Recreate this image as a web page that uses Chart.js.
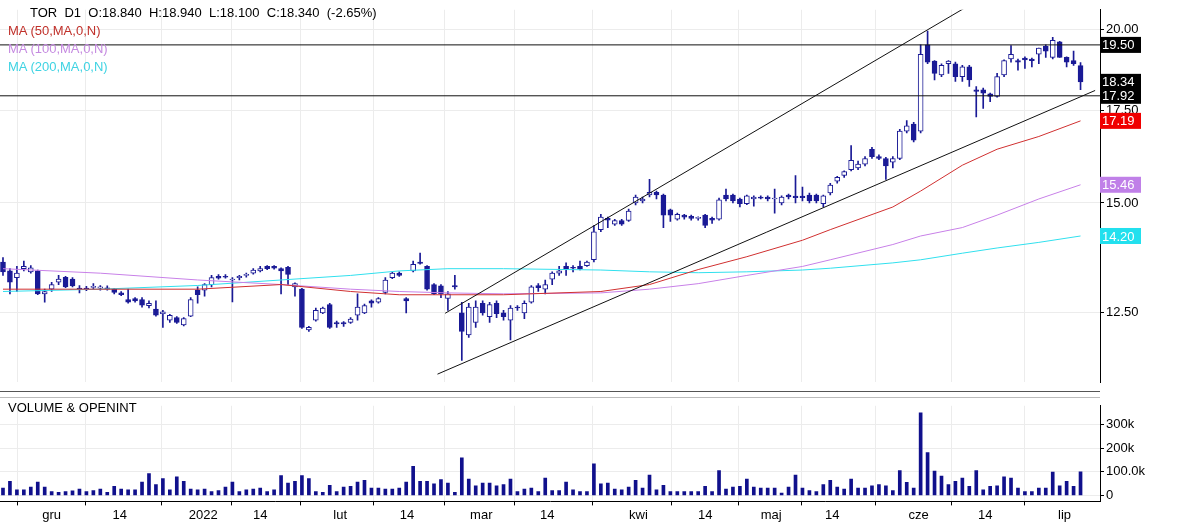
<!DOCTYPE html>
<html><head><meta charset="utf-8">
<script src="https://cdn.jsdelivr.net/npm/chart.js@4.4.1/dist/chart.umd.min.js"></script>
<style>
body{margin:0;background:#fff;width:1184px;height:525px;overflow:hidden;font-family:"Liberation Sans",Arial,sans-serif}
#top{position:absolute;left:0;top:0;width:1184px;height:392px}
#bot{position:absolute;left:0;top:396px;width:1184px;height:129px}
.lbl{position:absolute;font-size:13px;white-space:pre;line-height:14px}
#sep{position:absolute;left:0;top:391px;width:1100px;height:1px;background:#555}
#sep2{position:absolute;left:0;top:397px;width:1100px;height:1px;background:#bbb}
</style></head><body>
<div id="top"><canvas id="c1"></canvas></div>
<div id="bot"><canvas id="c2"></canvas></div>
<div id="sep"></div><div id="sep2"></div>
<div class="lbl" style="left:30px;top:6px;color:#000">TOR  D1  O:18.840  H:18.940  L:18.100  C:18.340  (-2.65%)</div>
<div class="lbl" style="left:8px;top:24px;color:#c0302a">MA (50,MA,0,N)</div>
<div class="lbl" style="left:8px;top:42px;color:#c58ae0">MA (100,MA,0,N)</div>
<div class="lbl" style="left:8px;top:60px;color:#3fd3e3">MA (200,MA,0,N)</div>
<div class="lbl" style="left:8px;top:401px;color:#000">VOLUME &amp; OPENINT</div>
<script>
const opens=[13.6,13.4,13.25,13.45,13.38,13.4,12.9,13.0,13.15,13.26,13.22,13.02,13.02,13.04,13.02,13.03,13.0,12.92,12.78,12.8,12.78,12.65,12.58,12.48,12.35,12.4,12.25,12.43,12.98,12.98,13.1,13.28,13.28,
13.2,13.25,13.3,13.35,13.4,13.5,13.5,13.45,13.48,13.05,13.0,12.15,12.35,12.5,12.67,12.3,12.3,12.3,12.45,12.5,12.75,12.72,12.93,13.25,13.35,12.8,13.4,13.6,13.5,13.1,13.07,12.8,
13.08,12.5,12.05,12.3,12.7,12.42,12.7,12.5,12.35,12.62,12.5,12.72,13.08,13.0,13.22,13.35,13.5,13.48,13.5,13.52,13.65,14.35,14.62,14.48,14.57,14.57,15.0,15.05,15.2,15.27,15.2,
14.83,14.6,14.7,14.67,14.62,14.7,14.62,14.6,15.2,15.2,15.1,14.98,15.1,15.15,15.15,15.1,15.0,15.2,15.17,15.17,15.2,15.2,14.98,15.25,15.55,15.7,15.85,15.9,16.0,16.4,16.2,16.15,
16.05,16.15,16.9,17.1,16.9,19.5,18.98,18.55,18.9,18.9,18.5,18.8,18.1,18.1,17.98,17.9,18.55,19.05,19.0,19.08,19.05,19.2,19.45,19.1,19.6,19.1,19.0,18.84];
const highs=[13.7,13.45,13.5,13.62,13.52,13.42,13.0,13.15,13.3,13.28,13.25,13.08,13.06,13.12,13.08,13.07,13.02,12.95,13.0,12.82,12.82,12.75,12.75,12.55,12.47,12.42,12.4,12.82,13.05,13.12,13.3,13.32,13.32,
13.25,13.3,13.35,13.45,13.5,13.52,13.52,13.47,13.5,13.14,13.02,12.22,12.6,12.62,12.7,12.33,12.32,12.4,12.9,12.68,12.77,12.82,13.25,13.37,13.38,12.82,13.62,13.8,13.52,13.12,13.1,12.95,
13.3,12.72,12.7,12.75,12.75,12.72,12.75,12.55,12.65,12.65,12.75,13.08,13.12,13.2,13.38,13.5,13.58,13.52,13.62,13.62,14.45,14.72,14.65,14.6,14.6,14.85,15.2,15.15,15.6,15.3,15.22,
14.85,14.75,14.72,14.7,14.66,14.72,14.65,15.12,15.35,15.22,15.12,15.2,15.18,15.18,15.18,15.35,15.18,15.22,15.7,15.4,15.25,15.22,15.2,15.5,15.68,15.82,16.5,16.08,16.2,16.45,16.25,16.18,
16.2,16.95,17.2,17.15,19.5,19.95,19.0,18.9,19.0,18.95,18.85,18.85,18.2,18.15,18.0,18.6,19.02,19.48,19.05,19.12,19.08,19.4,19.5,19.75,19.62,19.12,19.3,18.94];
const lows=[13.3,12.9,12.95,13.4,13.35,12.88,12.72,12.95,13.1,13.03,13.05,12.92,12.97,13.0,12.98,12.98,12.9,12.86,12.7,12.72,12.62,12.6,12.43,12.2,12.3,12.28,12.23,12.42,12.7,12.85,13.05,13.22,13.24,
12.73,13.2,13.26,13.33,13.38,13.43,13.44,12.9,13.1,12.85,12.18,12.12,12.33,12.48,12.18,12.2,12.22,12.28,12.35,12.48,12.62,12.7,12.9,13.23,13.28,12.5,13.38,13.55,12.98,12.88,12.82,12.55,
13.0,11.55,12.0,12.2,12.45,12.3,12.4,12.35,11.95,12.55,12.38,12.7,12.95,12.9,13.1,13.3,13.3,13.38,13.42,13.5,13.6,14.3,14.4,14.45,14.45,14.55,14.95,15.0,15.15,15.1,14.4,
14.55,14.58,14.6,14.58,14.58,14.4,14.5,14.58,15.05,15.0,14.9,14.96,14.92,15.1,15.05,14.75,14.95,15.1,15.0,15.05,15.0,15.0,14.9,15.2,15.5,15.65,15.82,15.85,15.95,16.15,16.12,15.6,
15.9,16.12,16.85,16.6,16.85,18.9,18.4,18.5,18.6,18.35,18.35,18.2,17.3,17.55,17.75,17.88,18.5,18.95,18.7,18.75,18.8,18.9,19.1,19.05,19.1,18.8,18.85,18.1];
const closes=[13.38,13.15,13.35,13.5,13.47,12.9,12.95,13.1,13.22,13.05,13.07,13.0,13.0,13.05,13.05,13.0,12.93,12.88,12.72,12.75,12.66,12.7,12.45,12.52,12.45,12.3,12.38,12.78,12.88,13.1,13.25,13.24,13.26,
13.22,13.28,13.3,13.42,13.45,13.45,13.46,13.4,13.32,13.12,12.2,12.2,12.55,12.6,12.2,12.27,12.27,12.37,12.62,12.65,12.7,12.8,13.2,13.35,13.3,12.75,13.55,13.57,13.0,12.9,12.9,12.9,
13.05,12.12,12.62,12.62,12.5,12.67,12.48,12.42,12.6,12.6,12.7,13.05,13.03,13.1,13.35,13.4,13.45,13.46,13.44,13.6,14.3,14.65,14.58,14.57,14.48,14.8,15.15,15.1,15.27,15.2,14.7,
14.7,14.72,14.65,14.62,14.62,14.45,14.58,15.08,15.1,15.05,14.98,15.18,15.15,15.12,15.1,15.1,15.15,15.15,15.13,15.13,15.05,15.05,15.18,15.45,15.65,15.8,16.1,16.0,16.15,16.2,16.15,15.95,
16.15,16.9,17.05,16.65,19.2,18.95,18.6,18.85,18.98,18.5,18.8,18.4,18.05,18.0,17.9,18.5,19.0,19.2,18.95,19.02,19.0,19.4,19.3,19.65,19.1,18.95,18.9,18.34];
const volumes=[31,60,24,24,36,57,36,17,13,17,20,27,17,21,27,13,39,27,24,24,57,93,46,72,24,79,60,27,24,27,17,21,36,57,17,24,27,31,17,24,84,53,60,84,72,17,13,43,17,36,39,57,64,31,31,27,27,31,57,124,60,60,49,67,53,13,160,70,41,53,53,41,46,70,17,27,31,17,
74,21,21,57,24,17,17,134,49,53,27,24,36,64,31,86,24,43,17,17,17,17,17,39,17,106,27,36,39,70,36,31,31,31,10,36,86,31,21,17,46,64,36,27,70,31,31,41,46,41,21,106,56,31,350,182,103,82,46,60,74,39,106,24,39,41,79,74,31,17,17,31,31,99,41,60,39,100];
const maIdx=[0,14,28,40,50,57,64,72,86,93,100,107,115,119,128,132,138,143,149,155];
const ma50=[13.0,13.0,13.0,13.1,12.95,12.88,12.88,12.88,12.95,13.1,13.43,13.72,14.1,14.35,14.9,15.3,15.97,16.4,16.75,17.19];
const ma100=[13.45,13.35,13.2,13.1,13.0,12.95,12.92,12.9,12.92,13.0,13.12,13.3,13.5,13.65,14.0,14.2,14.4,14.7,15.1,15.46];
const ma200=[12.95,13.0,13.08,13.2,13.3,13.4,13.45,13.45,13.42,13.38,13.36,13.38,13.42,13.46,13.58,13.65,13.8,13.92,14.05,14.2];
const tickPos=[7,16.8,28.8,37,48.5,58.1,68.8,78.3,91.4,101,110.5,119.3,131.7,141.3,152.7];
const tickLabels=['gru','14','2022','14','lut','14','mar','14','kwi','14','maj','14','cze','14','lip'];
const upperChannel=[[63.6,12.49],[139.1,20.84]];
const lowerChannel=[[62.5,11.29],[157.1,18.08]];
const hLevels=[19.5,17.92];
const badges=[[19.5,'19.50','#000'],[18.34,'18.34','#000'],[17.92,'17.92','#000'],[17.19,'17.19','#f00000'],[15.46,'15.46','#c080e8'],[14.2,'14.20','#22e0ee']];
const priceTicks=[12.5,15,17.5,20];
const volTicks=[0,100,200,300];

const XMIN=-0.43, XMAX=157.8, DARK='#1a1a96';
const n=closes.length, idx=[...Array(n).keys()];
const up=i=>closes[i]>=opens[i];
const FONT={family:'"Liberation Sans", Arial, sans-serif',size:13};
function xScale(showTicks){return {type:'linear',min:XMIN,max:XMAX,offset:false,
  afterBuildTicks:s=>{s.ticks=tickPos.map(v=>({value:v}))},
  ticks:{display:showTicks,autoSkip:false,maxRotation:0,color:'#000',font:FONT,padding:2,callback:(v,i)=>tickLabels[i]},
  grid:{color:'#ececec',drawTicks:showTicks,tickLength:4,tickColor:'#000'},border:{display:showTicks,color:'#000'},
  afterFit:s=>{if(!showTicks)s.height=0;}}}
const badgePlugin={id:'badges',afterDraw(ch){const y=ch.scales.y,c=ch.ctx;c.save();c.font='13px "Liberation Sans", Arial';c.textBaseline='middle';
  badges.forEach(([v,t,col])=>{const py=y.getPixelForValue(v);c.fillStyle=col;c.fillRect(1100,py-8,41,16);c.fillStyle='#fff';c.fillText(t,1102,py+1);});c.restore();}};
const line=(pts,color)=>({type:'line',data:pts.map(p=>({x:p[0],y:p[1]})),borderColor:color,borderWidth:1,pointRadius:0,order:0});
new Chart(document.getElementById('c1'),{
 data:{datasets:[
  {type:'bar',data:idx.map(i=>({x:i,y:[lows[i],highs[i]]})),backgroundColor:DARK,barThickness:1,grouped:false,order:3},
  {type:'bar',data:idx.map(i=>({x:i,y:[Math.min(opens[i],closes[i]),Math.max(opens[i],closes[i])]})),
    backgroundColor:idx.map(i=>up(i)?'#fff':DARK),borderColor:DARK,borderWidth:1,borderSkipped:false,barThickness:5,grouped:false,minBarLength:1,order:2},
  {type:'line',data:maIdx.map((x,k)=>({x,y:ma50[k]})),borderColor:'#d03030',borderWidth:1,pointRadius:0,order:1},
  {type:'line',data:maIdx.map((x,k)=>({x,y:ma100[k]})),borderColor:'#c880e8',borderWidth:1,pointRadius:0,order:1},
  {type:'line',data:maIdx.map((x,k)=>({x,y:ma200[k]})),borderColor:'#30e0ee',borderWidth:1,pointRadius:0,order:1},
  line(upperChannel,'#111'),line(lowerChannel,'#111'),
  ...hLevels.map(v=>line([[XMIN,v],[XMAX,v]],'#111'))
 ]},
 options:{responsive:true,maintainAspectRatio:false,animation:false,layout:{padding:0},
  plugins:{legend:{display:false},tooltip:{enabled:false}},
  scales:{x:xScale(false),
   y:{type:'logarithmic',position:'right',min:11.14,max:20.67,
    afterBuildTicks:s=>{s.ticks=priceTicks.map(v=>({value:v}))},
    afterFit:s=>{s.width=84},
    ticks:{color:'#000',font:FONT,padding:2,callback:v=>Number(v).toFixed(2)},
    grid:{color:'#ececec',tickLength:4,tickColor:'#000'},border:{color:'#000'}}}},
 plugins:[badgePlugin]});
new Chart(document.getElementById('c2'),{
 data:{datasets:[{type:'bar',data:idx.map(i=>({x:i,y:volumes[i]})),backgroundColor:'#10108c',barThickness:3}]},
 options:{responsive:true,maintainAspectRatio:false,animation:false,layout:{padding:{top:2}},
  plugins:{legend:{display:false},tooltip:{enabled:false}},
  scales:{x:xScale(true),
   y:{type:'linear',position:'right',min:-25,max:380,
    afterBuildTicks:s=>{s.ticks=volTicks.map(v=>({value:v}))},
    afterFit:s=>{s.width=84},
    ticks:{color:'#000',font:FONT,padding:2,callback:v=>v===0?'0':(v===100?'100.0k':v+'k')},
    grid:{color:'#ececec',tickLength:4,tickColor:'#000'},border:{color:'#000'}}}}});
</script></body></html>
